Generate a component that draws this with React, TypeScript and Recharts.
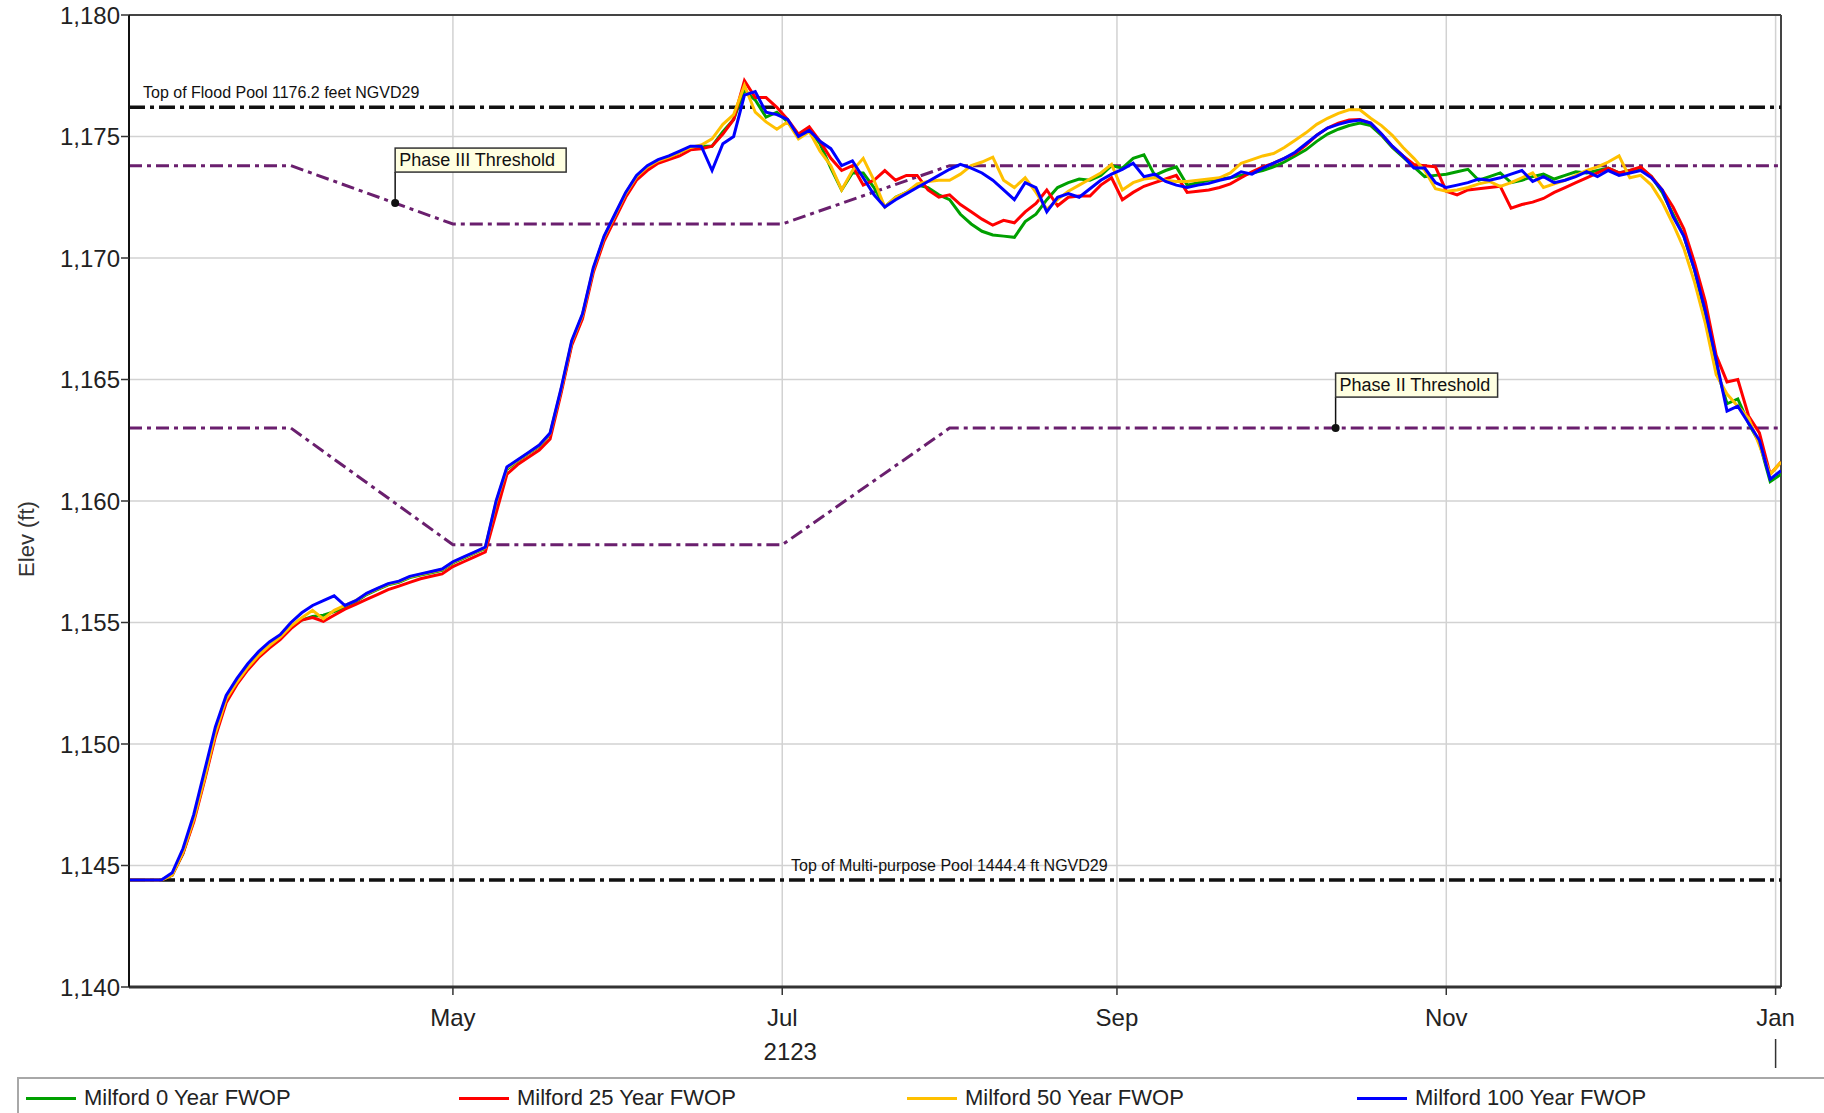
import React from 'react';
import { LineChart, Line, XAxis, YAxis, CartesianGrid, ReferenceLine, ReferenceDot } from 'recharts';

// day 0 = Mar 1, 2123 (sampled every 2 days)
const days = [
  1, 3, 5, 7, 9, 11, 13, 15, 17, 19,
  21, 23, 25, 27, 29, 31, 33, 35, 37, 39,
  41, 43, 45, 47, 49, 51, 53, 55, 57, 59,
  61, 63, 65, 67, 69, 71, 73, 75, 77, 79,
  81, 83, 85, 87, 89, 91, 93, 95, 97, 99,
  101, 103, 105, 107, 109, 111, 113, 115, 117, 119,
  121, 123, 125, 127, 129, 131, 133, 135, 137, 139,
  141, 143, 145, 147, 149, 151, 153, 155, 157, 159,
  161, 163, 165, 167, 169, 171, 173, 175, 177, 179,
  181, 183, 185, 187, 189, 191, 193, 195, 197, 199,
  201, 203, 205, 207, 209, 211, 213, 215, 217, 219,
  221, 223, 225, 227, 229, 231, 233, 235, 237, 239,
  241, 243, 245, 247, 249, 251, 253, 255, 257, 259,
  261, 263, 265, 267, 269, 271, 273, 275, 277, 279,
  281, 283, 285, 287, 289, 291, 293, 295, 297, 299,
  301, 303, 305, 307,
];

const elev0 = [
  1144.4, 1144.4, 1144.4, 1144.4, 1144.6, 1145.5, 1146.9, 1148.6, 1150.4, 1151.8,
  1152.5, 1153.1, 1153.6, 1154.0, 1154.35, 1154.8, 1155.1, 1155.25, 1155.3, 1155.45,
  1155.6, 1155.85, 1156.15, 1156.35, 1156.55, 1156.65, 1156.85, 1156.95, 1157.05, 1157.15,
  1157.45, 1157.65, 1157.85, 1158.05, 1159.9, 1161.3, 1161.65, 1161.95, 1162.25, 1162.75,
  1164.5, 1166.5, 1167.65, 1169.5, 1170.85, 1171.75, 1172.65, 1173.35, 1173.75, 1174.0,
  1174.15, 1174.35, 1174.55, 1174.6, 1174.6, 1175.2, 1175.7, 1176.9, 1176.5, 1175.8,
  1176.0, 1175.6, 1175.0, 1175.3, 1174.7, 1173.7, 1172.8, 1173.5, 1173.5, 1172.9,
  1172.1, 1172.5, 1172.7, 1173.0, 1172.9, 1172.6, 1172.4, 1171.8, 1171.4, 1171.1,
  1170.95, 1170.9, 1170.85, 1171.5, 1171.8, 1172.4, 1172.9, 1173.1, 1173.25, 1173.2,
  1173.4, 1173.8, 1173.7, 1174.1, 1174.25, 1173.4, 1173.6, 1173.75, 1173.0, 1173.1,
  1173.2, 1173.25, 1173.3, 1173.4, 1173.5, 1173.6, 1173.75, 1173.95, 1174.2, 1174.45,
  1174.8, 1175.1, 1175.3, 1175.45, 1175.55, 1175.45, 1175.05, 1174.55, 1174.15, 1173.75,
  1173.35, 1173.4, 1173.45, 1173.55, 1173.65, 1173.2, 1173.35, 1173.5, 1173.1, 1173.2,
  1173.35, 1173.45, 1173.25, 1173.4, 1173.55, 1173.5, 1173.6, 1173.7, 1173.5, 1173.6,
  1173.7, 1173.35, 1172.7, 1171.8, 1170.9, 1169.5, 1167.7, 1165.5, 1164.0, 1164.2,
  1163.2, 1162.4, 1160.8, 1161.1,
];

const elev25 = [
  1144.4, 1144.4, 1144.4, 1144.4, 1144.6, 1145.5, 1146.8, 1148.5, 1150.3, 1151.7,
  1152.45, 1153.05, 1153.55, 1153.95, 1154.3, 1154.75, 1155.1, 1155.2, 1155.05, 1155.3,
  1155.55, 1155.75, 1155.95, 1156.15, 1156.35, 1156.5, 1156.65, 1156.8, 1156.9, 1157.0,
  1157.3, 1157.5, 1157.7, 1157.9, 1159.5, 1161.1, 1161.5, 1161.8, 1162.1, 1162.55,
  1164.4, 1166.4, 1167.5, 1169.4, 1170.7, 1171.6, 1172.5, 1173.2, 1173.6, 1173.9,
  1174.05, 1174.2, 1174.45, 1174.5, 1174.6, 1175.1, 1175.7, 1177.3, 1176.6, 1176.6,
  1176.2, 1175.7, 1175.1, 1175.4, 1174.8, 1174.1, 1173.6, 1173.8, 1173.0, 1173.2,
  1173.6, 1173.2, 1173.4, 1173.4, 1172.8, 1172.5, 1172.6, 1172.2, 1171.9, 1171.6,
  1171.35, 1171.55, 1171.45, 1171.9, 1172.25, 1172.8, 1172.15, 1172.5, 1172.55, 1172.55,
  1173.0, 1173.3, 1172.4, 1172.7, 1172.95, 1173.1, 1173.25, 1173.4, 1172.7, 1172.75,
  1172.8, 1172.9, 1173.05, 1173.3, 1173.55, 1173.75, 1173.9, 1174.1, 1174.3, 1174.65,
  1175.05, 1175.35, 1175.55, 1175.68, 1175.7, 1175.55, 1175.1, 1174.6, 1174.2, 1173.85,
  1173.8, 1173.75, 1172.75, 1172.6, 1172.8, 1172.85, 1172.9, 1172.95, 1172.05, 1172.2,
  1172.3, 1172.45, 1172.7, 1172.9, 1173.1, 1173.3, 1173.5, 1173.7, 1173.5, 1173.6,
  1173.75, 1173.35, 1172.8, 1172.1, 1171.2, 1169.8, 1168.2, 1166.0, 1164.9, 1165.0,
  1163.5, 1162.8, 1161.1, 1161.6,
];

const elev50 = [
  1144.4, 1144.4, 1144.4, 1144.4, 1144.6, 1145.55, 1146.9, 1148.6, 1150.45, 1151.85,
  1152.55, 1153.15, 1153.65, 1154.05, 1154.4, 1154.85, 1155.2, 1155.5, 1155.15, 1155.5,
  1155.7, 1155.9, 1156.18, 1156.38, 1156.58, 1156.68, 1156.88, 1156.98, 1157.08, 1157.18,
  1157.48, 1157.68, 1157.88, 1158.08, 1159.95, 1161.35, 1161.68, 1161.98, 1162.28, 1162.78,
  1164.55, 1166.55, 1167.65, 1169.55, 1170.85, 1171.75, 1172.65, 1173.35, 1173.75, 1174.0,
  1174.15, 1174.35, 1174.55, 1174.65, 1174.9, 1175.5, 1175.9, 1177.1, 1176.0, 1175.6,
  1175.3, 1175.6, 1174.9, 1175.2, 1174.4, 1173.8, 1172.8, 1173.6, 1174.1, 1173.2,
  1172.1, 1172.5, 1172.7, 1173.05, 1173.15, 1173.2, 1173.2, 1173.45, 1173.8, 1173.95,
  1174.15, 1173.2, 1172.9, 1173.3, 1172.7, 1172.0, 1172.4, 1172.75, 1173.0, 1173.25,
  1173.5, 1173.85, 1172.8, 1173.1, 1173.25, 1173.3, 1173.2, 1173.15, 1173.15, 1173.2,
  1173.25, 1173.3, 1173.5, 1173.9, 1174.05, 1174.2, 1174.3, 1174.55, 1174.85, 1175.15,
  1175.5, 1175.75, 1175.95, 1176.1, 1176.1, 1175.75, 1175.45, 1175.05, 1174.55, 1174.1,
  1173.6, 1172.85, 1172.75, 1172.8, 1172.9, 1173.05, 1173.15, 1172.95, 1173.1, 1173.3,
  1173.5, 1172.9, 1173.05, 1173.2, 1173.4, 1173.6, 1173.75, 1173.95, 1174.2, 1173.3,
  1173.4, 1173.0, 1172.3, 1171.4, 1170.4, 1169.0, 1167.3, 1165.2, 1164.4, 1163.9,
  1163.4, 1162.3, 1161.1, 1161.6,
];

const elev100 = [
  1144.4, 1144.4, 1144.4, 1144.4, 1144.7, 1145.7, 1147.1, 1148.9, 1150.7, 1152.0,
  1152.7, 1153.3, 1153.8, 1154.2, 1154.5, 1155.0, 1155.4, 1155.7, 1155.9, 1156.1,
  1155.7, 1155.9, 1156.2, 1156.4, 1156.6, 1156.7, 1156.9, 1157.0, 1157.1, 1157.2,
  1157.5, 1157.7, 1157.9, 1158.1, 1160.0, 1161.4, 1161.7, 1162.0, 1162.3, 1162.8,
  1164.6, 1166.6, 1167.7, 1169.6, 1170.9, 1171.8, 1172.7, 1173.4, 1173.8, 1174.05,
  1174.2, 1174.4, 1174.6, 1174.6, 1173.6, 1174.7, 1175.0, 1176.7, 1176.85, 1176.0,
  1175.9, 1175.7, 1175.0, 1175.25, 1174.8, 1174.5, 1173.8, 1174.0, 1173.3, 1172.6,
  1172.1, 1172.4, 1172.65, 1172.9, 1173.15, 1173.4, 1173.65, 1173.85, 1173.7, 1173.5,
  1173.2, 1172.8, 1172.4, 1173.1, 1172.9, 1171.9, 1172.5, 1172.65, 1172.5, 1172.85,
  1173.2, 1173.45, 1173.65, 1173.9, 1173.35, 1173.45, 1173.15, 1173.0, 1172.9, 1173.0,
  1173.07, 1173.2, 1173.3, 1173.55, 1173.45, 1173.7, 1173.9, 1174.1, 1174.35, 1174.7,
  1175.05, 1175.35, 1175.5, 1175.62, 1175.68, 1175.55, 1175.1, 1174.6, 1174.2, 1173.7,
  1173.7, 1173.1, 1172.9, 1173.0, 1173.1, 1173.25, 1173.2, 1173.3, 1173.45, 1173.6,
  1173.15, 1173.35, 1173.1, 1173.2, 1173.35, 1173.55, 1173.35, 1173.6, 1173.4, 1173.5,
  1173.6, 1173.3, 1172.8, 1171.7, 1170.9, 1169.5, 1167.8, 1165.8, 1163.7, 1163.9,
  1163.2, 1162.5, 1160.9, 1161.25,
];

const monthTicks = [61, 122, 184, 245, 306];
const monthLabels = ['May', 'Jul', 'Sep', 'Nov', 'Jan'];
const yearTick = 122;
const yearLabel = '2123';
const elevTicks = [1140, 1145, 1150, 1155, 1160, 1165, 1170, 1175, 1180];

const thresholdDays = [1, 31, 61, 122, 153, 307];
const phase3Elev = [1173.8, 1173.8, 1171.4, 1171.4, 1173.8, 1173.8];
const phase2Elev = [1163.0, 1163.0, 1158.2, 1158.2, 1163.0, 1163.0];

const floodPool = 1176.2;
const multiPurposePool = 1144.4;

const calloutDays = [50.3, 224.5];
const calloutElev = [1172.26, 1163.0];
const calloutText = ['Phase III Threshold', 'Phase II Threshold'];

const series = [
  { key: 'fwop0', name: 'Milford 0 Year FWOP', color: '#00a000', values: elev0 },
  { key: 'fwop25', name: 'Milford 25 Year FWOP', color: '#ff0000', values: elev25 },
  { key: 'fwop50', name: 'Milford 50 Year FWOP', color: '#ffc000', values: elev50 },
  { key: 'fwop100', name: 'Milford 100 Year FWOP', color: '#0000ff', values: elev100 },
];

const data = days.map((d, i) => {
  const row: Record<string, number> = { day: d };
  series.forEach((s) => { row[s.key] = s.values[i]; });
  return row;
});
const phase3Data = thresholdDays.map((d, i) => ({ day: d, v: phase3Elev[i] }));
const phase2Data = thresholdDays.map((d, i) => ({ day: d, v: phase2Elev[i] }));

const FONT = "'Liberation Sans', Arial, sans-serif";

const MonthTick = (props: any) => {
  const { x, y, payload } = props;
  const idx = monthTicks.indexOf(payload.value);
  return (
    <g>
      <text x={x} y={y} dy="0.71em" textAnchor="middle" fontSize={24} fill="#222" fontFamily={FONT}>
        {monthLabels[idx]}
      </text>
      {payload.value === yearTick && (
        <text x={x + 8} y={y + 34} dy="0.71em" textAnchor="middle" fontSize={24} fill="#222" fontFamily={FONT}>
          {yearLabel}
        </text>
      )}
      {idx === monthTicks.length - 1 && (
        <line x1={x} x2={x} y1={y + 30} y2={y + 59} stroke="#333" strokeWidth={1.5} />
      )}
    </g>
  );
};

const PoolLabel = (props: any) => {
  const { viewBox, text, dx } = props;
  if (!viewBox) return null;
  return (
    <text x={viewBox.x + dx} y={viewBox.y - 9} fontSize={16} fill="#111" fontFamily={FONT}>
      {text}
    </text>
  );
};

const ElevLabel = (props: any) => {
  const { viewBox } = props;
  const cx = viewBox.x + 26;
  const cy = viewBox.y + viewBox.height / 2 + 38;
  return (
    <text x={cx} y={cy} transform={`rotate(-90, ${cx}, ${cy})`} textAnchor="middle" dominantBaseline="central"
      fontSize={22} fill="#333" fontFamily={FONT}>
      Elev (ft)
    </text>
  );
};

const Callout = (props: any) => {
  const { cx, cy, text } = props;
  const w = text.length * 9;
  return (
    <g>
      <line x1={cx} x2={cx} y1={cy} y2={cy - 31} stroke="#111" strokeWidth={1.5} />
      <circle cx={cx} cy={cy} r={4} fill="#111" />
      <rect x={cx} y={cy - 55} width={w} height={24} fill="#ffffe1" stroke="#333" strokeWidth={1.5} />
      <text x={cx + 4} y={cy - 37} fontSize={18} fill="#111" fontFamily={FONT}>{text}</text>
    </g>
  );
};

export default function App() {
  return (
    <div style={{ position: 'absolute', left: 0, top: 0, width: 1824, height: 1113, background: '#fff', overflow: 'hidden', fontFamily: FONT }}>
      <LineChart width={1824} height={1113} data={data} margin={{ top: 15, right: 43, bottom: 66, left: 0 }}>
        <CartesianGrid stroke="#d2d2d2" strokeWidth={1.5} />
        <XAxis
          dataKey="day"
          type="number"
          domain={[1, 307]}
          ticks={monthTicks}
          interval={0}
          allowDataOverflow
          height={60}
          tickSize={8}
          tickMargin={14}
          tick={<MonthTick />}
          axisLine={{ stroke: '#333', strokeWidth: 3 }}
          tickLine={{ stroke: '#333', strokeWidth: 1.5 }}
        />
        <YAxis
          type="number"
          domain={[1140, 1180]}
          ticks={elevTicks}
          interval={0}
          allowDataOverflow
          width={129}
          tickSize={8}
          tickMargin={1}
          tickFormatter={(v: number) => v.toLocaleString('en-US')}
          tick={{ fontSize: 24, fill: '#222', fontFamily: FONT }}
          axisLine={{ stroke: '#111', strokeWidth: 2 }}
          tickLine={{ stroke: '#333', strokeWidth: 1.5 }}
          label={<ElevLabel />}
        />
        <ReferenceLine y={1180} stroke="#444" strokeWidth={2} />
        <ReferenceLine x={307} stroke="#444" strokeWidth={2} />
        <ReferenceLine
          y={floodPool}
          stroke="#111"
          strokeWidth={3.5}
          strokeDasharray="16 5 4 5"
          label={<PoolLabel text="Top of Flood Pool 1176.2 feet NGVD29" dx={14} />}
        />
        <ReferenceLine
          y={multiPurposePool}
          stroke="#111"
          strokeWidth={3.5}
          strokeDasharray="16 5 4 5"
          label={<PoolLabel text="Top of Multi-purpose Pool 1444.4 ft NGVD29" dx={662} />}
        />
        <Line data={phase3Data} dataKey="v" stroke="#6a1f6e" strokeWidth={3} strokeDasharray="13 5 4 5"
          dot={false} activeDot={false} isAnimationActive={false} legendType="none" />
        <Line data={phase2Data} dataKey="v" stroke="#6a1f6e" strokeWidth={3} strokeDasharray="13 5 4 5"
          dot={false} activeDot={false} isAnimationActive={false} legendType="none" />
        {series.map((s) => (
          <Line
            key={s.key}
            dataKey={s.key}
            name={s.name}
            stroke={s.color}
            strokeWidth={3}
            dot={false}
            activeDot={false}
            isAnimationActive={false}
          />
        ))}
        {calloutDays.map((d, i) => (
          <ReferenceDot
            key={calloutText[i]}
            x={d}
            y={calloutElev[i]}
            r={4}
            shape={(p: any) => <Callout cx={p.cx} cy={p.cy} text={calloutText[i]} />}
          />
        ))}
      </LineChart>
      <div style={{ position: 'absolute', left: 17, top: 1077, width: 1900, height: 60, border: '2px solid #a8a8a8', background: '#fff' }}>
        {series.map((s, i) => (
          <div key={s.key} style={{ position: 'absolute', left: [7, 440, 888, 1338][i], top: 6, display: 'flex', alignItems: 'center', height: 26 }}>
            <div style={{ width: 50, height: 3, background: s.color }} />
            <span style={{ marginLeft: 8, fontSize: 22, color: '#222', whiteSpace: 'nowrap' }}>{s.name}</span>
          </div>
        ))}
      </div>
    </div>
  );
}
